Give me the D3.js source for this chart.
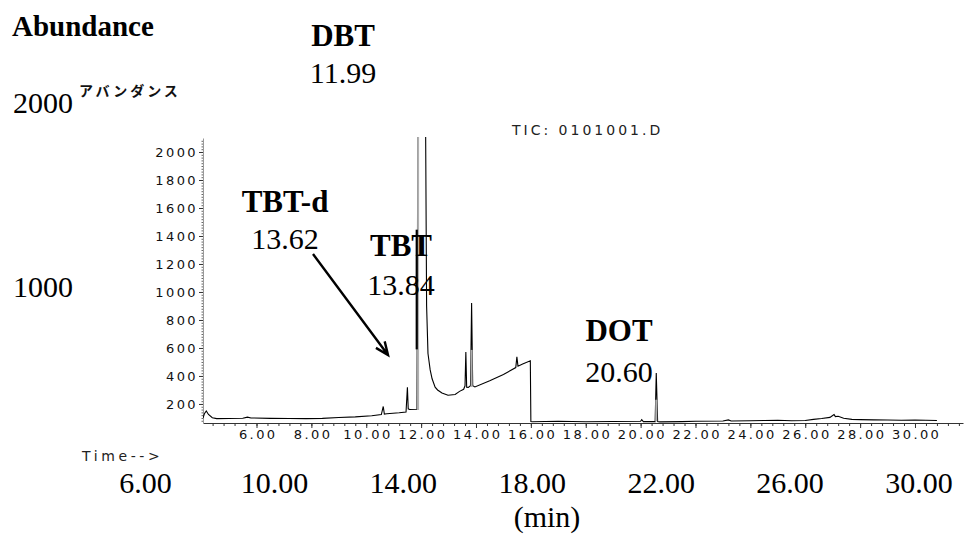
<!DOCTYPE html>
<html>
<head>
<meta charset="utf-8">
<script src="https://cdn.jsdelivr.net/npm/d3@7"></script>
<style>
body { margin: 0; background: #fff; }
.inner text { font-family: "DejaVu Sans", sans-serif; font-size: 13px; letter-spacing: 2.4px; fill: #111; }
.serif { font-family: "Liberation Serif", "Times New Roman", serif; fill: #000; }
</style>
</head>
<body>
<svg id="chart" width="964" height="542"></svg>
<script>
"use strict";

// TIC trace (min, abundance)
const ticTime = [4.05, 4.1, 4.17, 4.25, 4.39, 4.55, 5.0, 5.5, 5.67, 5.8, 6.5, 7.2, 7.8, 8.4, 9.0, 9.6,
    10.2, 10.55, 10.62, 10.66, 10.75, 11.2, 11.45, 11.5, 11.53, 11.58, 11.85, 11.89, 12.0, 12.14,
    12.2, 12.25, 12.33, 12.4, 12.51, 12.6, 12.76, 12.98, 13.24, 13.4, 13.55, 13.6, 13.63, 13.66,
    13.72, 13.8, 13.84, 13.88, 13.96, 14.5, 15.0, 15.45, 15.49, 15.53, 15.7, 15.98, 16.0, 16.05,
    17.0, 18.0, 19.0, 20.0, 20.04, 20.1, 20.53, 20.57, 20.62, 20.7, 21.5, 22.0, 23.0, 23.2, 23.3,
    24.0, 24.5, 25.0, 25.5, 26.0, 26.3, 26.6, 26.9, 27.0, 27.05, 27.1, 27.2, 27.4, 27.7, 28.0,
    28.5, 29.0, 29.5, 30.0, 30.8];
const ticAbund = [100, 130, 150, 125, 102, 95, 96, 98, 106, 100, 97, 96, 95, 97, 103, 108,
    116, 124, 182, 128, 130, 137, 142, 320, 165, 160, 162, 3000, 9000, 3000,
    900, 560, 443, 380, 320, 300, 279, 262, 268, 290, 305, 330, 571, 320,
    318, 330, 921, 330, 322, 365, 410, 460, 536, 470, 485, 508, 75, 73,
    76, 73, 75, 76, 88, 74, 74, 421, 74, 72, 74, 76, 78, 86, 78,
    80, 82, 84, 80, 82, 90, 96, 104, 118, 124, 110, 112, 98, 90, 88,
    86, 85, 84, 85, 82];

// gray integration marks on peaks
const markTime = [11.89, 13.84, 20.57];
const markLow = [157, 321, 75];
const markHigh = [2200, 586, 230];
// dark bar on the left flank of the big peak
const barTime = 11.84;
const barLow = 590;
const barHigh = 1445;

// axis ticks
const xMajor = d3.range(6, 31, 2);
const xMinor = d3.range(4.4, 31.7, 0.4);
const yMajor = d3.range(200, 2001, 200);
const yMinor = d3.range(80, 2100, 20);

// overlay annotation labels
const peakNames = ["DBT", "TBT-d", "TBT", "DOT"];
const peakTimes = ["11.99", "13.62", "13.84", "20.60"];
const outerXTicks = [6, 10, 14, 18, 22, 26, 30];
const outerYTicks = [2000, 1000];

const svg = d3.select("#chart");

const x = d3.scaleLinear().domain([4.05, 31.75]).range([203, 963]);
const y = d3.scaleLinear().domain([64, 2100]).range([423, 138]);

svg.append("clipPath").attr("id", "plot")
    .append("rect")
    .attr("x", 203).attr("y", 137)
    .attr("width", 761).attr("height", 287);

const inner = svg.append("g").attr("class", "inner");

// x axis (minor then major)
inner.append("g")
    .attr("transform", "translate(0,423)")
    .call(d3.axisBottom(x).tickValues(xMinor).tickSize(3).tickSizeOuter(0).tickFormat(""))
    .call(g => g.select(".domain").attr("stroke", "#333"))
    .call(g => g.selectAll(".tick line").attr("stroke", "#333"));
inner.append("g")
    .attr("transform", "translate(0,423)")
    .call(d3.axisBottom(x).tickValues(xMajor).tickSize(5).tickPadding(2).tickSizeOuter(0)
        .tickFormat(d3.format(".2f")))
    .call(g => g.select(".domain").remove())
    .call(g => g.selectAll(".tick line").attr("stroke", "#333"))
    .call(g => g.selectAll("text").attr("dx", "1.2px"));

// y axis
inner.append("g")
    .attr("transform", "translate(203,0)")
    .call(d3.axisLeft(y).tickValues(yMinor).tickSize(1.5).tickSizeOuter(0).tickFormat(""))
    .call(g => g.select(".domain").attr("stroke", "#999"))
    .call(g => g.selectAll(".tick line").attr("stroke", "#666"));
inner.append("g")
    .attr("transform", "translate(203,0)")
    .call(d3.axisLeft(y).tickValues(yMajor).tickSize(4).tickPadding(1).tickSizeOuter(0)
        .tickFormat(d3.format("d")))
    .call(g => g.select(".domain").remove())
    .call(g => g.selectAll(".tick line").attr("stroke", "#333"));

// trace
const plot = svg.append("g").attr("clip-path", "url(#plot)");
const line = d3.line().x(d => x(d[0])).y(d => y(d[1]));

plot.append("path")
    .datum(d3.zip(ticTime, ticAbund))
    .attr("d", line)
    .attr("fill", "none")
    .attr("stroke", "#000")
    .attr("stroke-width", 1.1);

plot.selectAll(".mark")
    .data(d3.range(markTime.length))
    .enter().append("line")
    .attr("class", "mark")
    .attr("x1", i => x(markTime[i])).attr("x2", i => x(markTime[i]))
    .attr("y1", i => y(markLow[i])).attr("y2", i => y(markHigh[i]))
    .attr("stroke", "#b0b0b0")
    .attr("stroke-width", 2);

plot.append("line")
    .attr("x1", x(barTime)).attr("x2", x(barTime))
    .attr("y1", y(barLow)).attr("y2", y(barHigh))
    .attr("stroke", "#000")
    .attr("stroke-width", 2.2);

// instrument labels
svg.append("text")
    .attr("x", 512).attr("y", 135)
    .style("font-family", "'DejaVu Sans', sans-serif")
    .style("font-size", "14px")
    .style("letter-spacing", "3px")
    .attr("fill", "#222")
    .text("TIC: 0101001.D");

svg.append("text")
    .attr("x", 82).attr("y", 461)
    .style("font-family", "'DejaVu Sans', sans-serif")
    .style("font-size", "14px")
    .style("letter-spacing", "3.6px")
    .attr("fill", "#222")
    .text("Time-->");

svg.append("text")
    .attr("x", 79).attr("y", 96)
    .style("font-family", "'Noto Sans CJK JP', sans-serif")
    .style("font-size", "14px")
    .style("font-weight", "bold")
    .style("letter-spacing", "3px")
    .attr("fill", "#111")
    .text("アバンダンス");

// outer overlay axes
const outerX = d3.scaleLinear().domain([6, 30]).range([145.5, 919]);
const outerY = d3.scaleLinear().domain([1000, 2000]).range([297, 113]);

svg.selectAll(".ox")
    .data(outerXTicks)
    .enter().append("text")
    .attr("class", "ox serif")
    .attr("x", d => outerX(d)).attr("y", 493)
    .attr("text-anchor", "middle")
    .style("font-size", "30px")
    .text(d => d3.format(".2f")(d));

svg.selectAll(".oy")
    .data(outerYTicks)
    .enter().append("text")
    .attr("class", "oy serif")
    .attr("x", 13).attr("y", d => outerY(d))
    .style("font-size", "30px")
    .text(d => d);

svg.append("text").attr("class", "serif")
    .attr("x", 12).attr("y", 36)
    .style("font-size", "29px").style("font-weight", "bold")
    .text("Abundance");

svg.append("text").attr("class", "serif")
    .attr("x", 547).attr("y", 527)
    .attr("text-anchor", "middle")
    .style("font-size", "30px")
    .text("(min)");

// peak labels: [name center x, name baseline, time baseline]
const labelPos = [[343, 46, 83], [285, 212, 249], [401, 256, 295], [619, 341, 382]];

peakNames.forEach((n, i) => {
    const p = labelPos[i];
    svg.append("text").attr("class", "serif")
        .attr("x", p[0]).attr("y", p[1])
        .attr("text-anchor", "middle")
        .style("font-size", "31px").style("font-weight", "bold")
        .text(n);
    svg.append("text").attr("class", "serif")
        .attr("x", p[0]).attr("y", p[2])
        .attr("text-anchor", "middle")
        .style("font-size", "30px")
        .text(peakTimes[i]);
});

// arrow from TBT-d label
const tail = [313, 254];
const tip = [388, 355];
const ang = Math.atan2(tip[1] - tail[1], tip[0] - tail[0]);
const head = 14;
svg.append("path")
    .attr("d", `M${tail[0]},${tail[1]}L${tip[0]},${tip[1]}` +
        `M${tip[0] - head * Math.cos(ang - 0.4)},${tip[1] - head * Math.sin(ang - 0.4)}` +
        `L${tip[0]},${tip[1]}` +
        `L${tip[0] - head * Math.cos(ang + 0.4)},${tip[1] - head * Math.sin(ang + 0.4)}`)
    .attr("fill", "none")
    .attr("stroke", "#000")
    .attr("stroke-width", 2.4);
</script>
</body>
</html>
